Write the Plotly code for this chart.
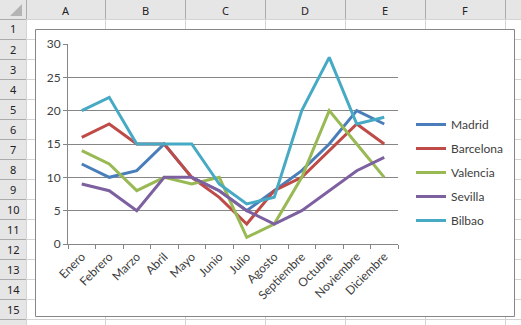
import plotly.graph_objects as go

meses = ["Enero", "Febrero", "Marzo", "Abril", "Mayo", "Junio", "Julio",
         "Agosto", "Septiembre", "Octubre", "Noviembre", "Diciembre"]
madrid = [12, 10, 11, 15, 10, 8, 5, 8, 11, 15, 20, 18]
barcelona = [16, 18, 15, 15, 10, 7, 3, 8, 10, 14, 18, 15]
valencia = [14, 12, 8, 10, 9, 10, 1, 3, 10, 20, 15, 10]
sevilla = [9, 8, 5, 10, 10, 8, 5, 3, 5, 8, 11, 13]
bilbao = [20, 22, 15, 15, 15, 9, 6, 7, 20, 28, 18, 19]

series = [("Madrid", madrid, "#4A7EBB"),
          ("Barcelona", barcelona, "#BE4B48"),
          ("Valencia", valencia, "#98B954"),
          ("Sevilla", sevilla, "#7D60A0"),
          ("Bilbao", bilbao, "#46AAC5")]

col_letters = ["A", "B", "C", "D", "E", "F"]
row_numbers = [str(i) for i in range(1, 16)]

W, H = 521, 325


def px(x):
    return x / W


def py(y):
    return 1 - y / H


fig = go.Figure()
for i, (name, vals, color) in enumerate(series):
    fig.add_trace(go.Scatter(x=meses, y=vals, name=name, mode="lines",
                             line=dict(color=color, width=3),
                             legendgroup=str(i)))

shapes = []
# spreadsheet headers
shapes.append(dict(type="rect", xref="paper", yref="paper", x0=0, x1=1,
                   y0=py(19), y1=1, fillcolor="#E6E6E6", line_width=0, layer="below"))
shapes.append(dict(type="rect", xref="paper", yref="paper", x0=0, x1=px(26),
                   y0=0, y1=1, fillcolor="#E6E6E6", line_width=0, layer="below"))
# corner triangle
shapes.append(dict(type="path", xref="paper", yref="paper",
                   path=f"M {px(22)},{py(4)} L {px(22)},{py(16)} L {px(10)},{py(16)} Z",
                   fillcolor="#B4B4B4", line_width=0, layer="below"))
col_edges = [26, 105, 185, 265, 345, 425, 505]
for x in col_edges:
    shapes.append(dict(type="line", xref="paper", yref="paper", x0=px(x + 0.5), x1=px(x + 0.5),
                       y0=0, y1=py(19), line=dict(color="#D4D4D4", width=1), layer="below"))
    shapes.append(dict(type="line", xref="paper", yref="paper", x0=px(x + 0.5), x1=px(x + 0.5),
                       y0=py(19), y1=1, line=dict(color="#ABABAB", width=1), layer="below"))
for k in range(0, 16):
    y = 19 + 20 * k + 0.5
    shapes.append(dict(type="line", xref="paper", yref="paper", x0=px(26), x1=1,
                       y0=py(y), y1=py(y), line=dict(color="#D4D4D4", width=1), layer="below"))
    shapes.append(dict(type="line", xref="paper", yref="paper", x0=0, x1=px(26),
                       y0=py(y), y1=py(y), line=dict(color="#ABABAB", width=1), layer="below"))
# chart area
shapes.append(dict(type="rect", xref="paper", yref="paper", x0=px(35.5), x1=px(514.5),
                   y0=py(316.5), y1=py(29.5), fillcolor="white",
                   line=dict(color="#868686", width=1), layer="below"))

annotations = []
col_centers = [65.5, 145, 225, 305, 385, 465]
for c, x in zip(col_letters, col_centers):
    annotations.append(dict(text=c, x=px(x), y=py(10), xref="paper", yref="paper",
                            xanchor="center", yanchor="middle",
                            showarrow=False, font=dict(family="Noto Sans", size=11, color="#222222")))
for i, r in enumerate(row_numbers):
    annotations.append(dict(text=r, x=px(13), y=py(29 + 20 * i), xref="paper", yref="paper",
                            xanchor="center", yanchor="middle",
                            showarrow=False, font=dict(family="Noto Sans", size=11, color="#222222")))

fig.update_layout(
    width=W, height=H,
    autosize=False,
    margin=dict(l=0, r=0, t=0, b=0, pad=0, autoexpand=False),
    paper_bgcolor="white",
    plot_bgcolor="rgba(0,0,0,0)",
    shapes=shapes,
    annotations=annotations,
    font=dict(family="Lato", size=12, color="#404040"),
    xaxis=dict(domain=[px(68), px(398)], type="category", range=[-0.5, 11.5],
               automargin=False,
               showgrid=False, showline=True, linecolor="#868686", linewidth=1,
               ticks="outside", ticklen=4, tickcolor="#868686", tickson="boundaries",
               tickangle=-45, tickfont=dict(size=12, color="#404040")),
    yaxis=dict(domain=[py(244), py(44)], range=[0, 30], dtick=5,
               automargin=False,
               showgrid=True, gridcolor="#868686", gridwidth=1,
               showline=True, linecolor="#868686", linewidth=1,
               ticks="outside", ticklen=4, tickcolor="#868686",
               zeroline=False, tickfont=dict(size=12, color="#404040")),
    legend=dict(x=px(411), y=py(110), xanchor="left", yanchor="top",
                bgcolor="rgba(0,0,0,0)", tracegroupgap=5,
                traceorder="grouped",
                font=dict(size=12, color="#404040")),
    showlegend=True,
)

fig.write_html("out.html", config={"responsive": False})
